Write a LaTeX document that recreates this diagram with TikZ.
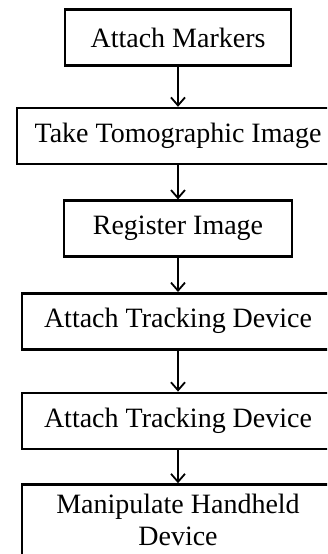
\documentclass[tikz,border=0pt]{standalone}
\usepackage{fontspec}
\setmainfont{Liberation Serif}
\usepackage{tikz}
\usetikzlibrary{arrows.meta, positioning}

\begin{document}
\begin{tikzpicture}[x=1pt, y=1pt,
    stepbox/.style={draw, line width=2.6pt, minimum height=56pt, inner sep=0pt,
      align=center, font=\fontsize{28}{32}\selectfont},
    flow/.style={line width=1.8pt, -{Straight Barb[length=8pt, width=14pt, line width=1.8pt]}}]
  \useasboundingbox (0,0) rectangle (327,-554);
  \clip (0,0) rectangle (327,-554);

  \node[stepbox, minimum width=226pt] (markers) at (178,-37.5) {Attach Markers};
  \node[stepbox, minimum width=322pt] (tomo) [below=40pt of markers] {Take Tomographic Image};
  \node[stepbox, minimum width=228pt] (register) [below=34pt of tomo] {Register Image};
  \node[stepbox, minimum width=312pt] (track1) [below=34pt of register] {Attach Tracking Device};
  \node[stepbox, minimum width=312pt] (track2) [below=41pt of track1] {Attach Tracking Device};
  \node[stepbox, minimum width=312pt, inner ysep=10pt] (handheld) [below=33pt of track2]
    {Manipulate Handheld\\Device};

  \path[flow]
    (markers) edge (tomo)
    (tomo) edge (register)
    (register) edge (track1)
    (track1) edge (track2)
    (track2) edge (handheld);
\end{tikzpicture}
\end{document}
